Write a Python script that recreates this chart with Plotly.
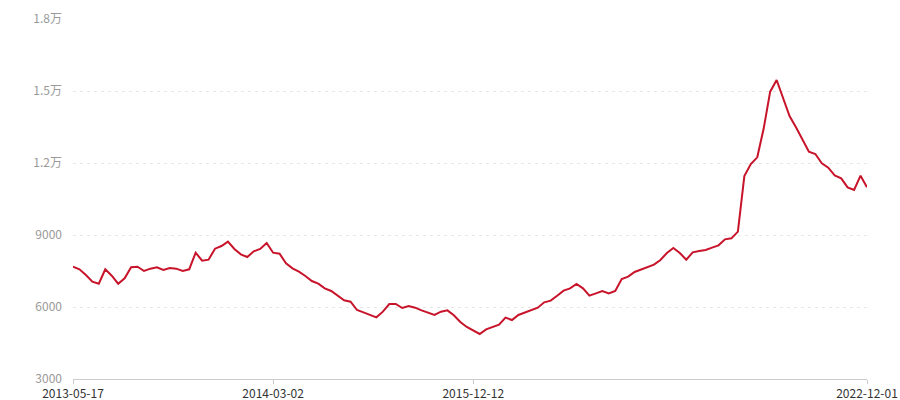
import plotly.graph_objects as go

values = [
    7680, 7570, 7333, 7055, 6971, 7570, 7305, 6970, 7194, 7654,
    7680, 7500, 7597, 7654, 7542, 7625, 7597, 7500, 7570, 8263,
    7930, 7972, 8430, 8542, 8722, 8420, 8194, 8083, 8319, 8417,
    8667, 8263, 8222, 7820, 7612, 7472, 7292, 7083, 6971, 6778,
    6667, 6472, 6278, 6222, 5875, 5778, 5667, 5569, 5806, 6125,
    6125, 5958, 6042, 5972, 5861, 5764, 5667, 5806, 5861, 5653,
    5375, 5167, 5014, 4875, 5069, 5167, 5264, 5556, 5458, 5667,
    5764, 5861, 5972, 6194, 6264, 6472, 6680, 6778, 6958, 6778,
    6472, 6569, 6667, 6569, 6667, 7167, 7264, 7458, 7570, 7667,
    7764, 7958, 8250, 8458, 8250, 7972, 8278, 8333, 8375, 8472,
    8569, 8819, 8861, 9139, 11458, 11958, 12236, 13444, 14972, 15458,
    14695, 13958, 13486, 12986, 12472, 12375, 11986, 11806, 11486, 11361,
    10986, 10875, 11472, 10986,
]

# Category labels shown on the x axis (index into the series)
x_label_index = [0, 31, 62, 123]
x_labels = ["2013-05-17", "2014-03-02", "2015-12-12", "2022-12-01"]

# Y axis ticks
y_tick_values = [3000, 6000, 9000, 12000, 15000, 18000]
y_tick_labels = ["3000", "6000", "9000", "1.2万", "1.5万", "1.8万"]

x_index = list(range(len(values)))

fig = go.Figure()
fig.add_trace(go.Scatter(
    x=x_index,
    y=values,
    mode="lines",
    line=dict(color="#c8142b", width=2),
    hoverinfo="y",
))

font_family = "Noto Sans CJK SC, Microsoft YaHei, sans-serif"

fig.update_layout(
    width=900,
    height=400,
    margin=dict(l=73, r=33, t=19, b=21, autoexpand=False),
    paper_bgcolor="white",
    plot_bgcolor="white",
    showlegend=False,
    font=dict(family=font_family, size=12),
    xaxis=dict(
        range=[0, len(values) - 1],
        tickmode="array",
        tickvals=x_label_index,
        ticktext=x_labels,
        showgrid=False,
        zeroline=False,
        showline=True,
        linecolor="#cccccc",
        linewidth=1,
        ticks="outside",
        ticklen=4,
        tickcolor="#cccccc",
        tickfont=dict(color="#333333", size=12, family=font_family),
        automargin=False,
        fixedrange=True,
    ),
    yaxis=dict(
        range=[3000, 18000],
        tickmode="array",
        tickvals=y_tick_values,
        ticktext=y_tick_labels,
        showgrid=True,
        gridcolor="#e6e6e6",
        griddash="3px,4px",
        gridwidth=1,
        zeroline=False,
        showline=False,
        ticks="",
        ticklabelstandoff=10,
        tickfont=dict(color="#999999", size=12, family=font_family),
        automargin=False,
        fixedrange=True,
    ),
)

fig.write_html(
    "out.html",
    config={"displayModeBar": False},
    post_script="document.body.style.margin='0';document.body.style.overflow='hidden';",
)
